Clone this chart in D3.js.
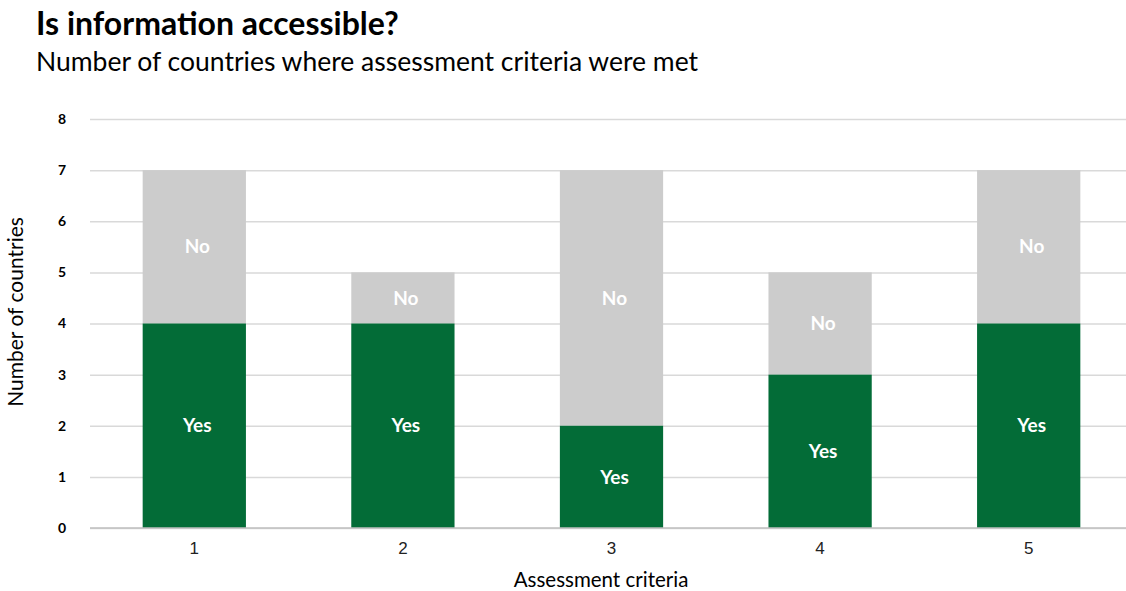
<!DOCTYPE html>
<meta charset="utf-8">
<style>
body { margin: 0; background: #fff; }
svg { font-family: Lato, "Open Sans", sans-serif; }
.grid line { stroke: #d9d9d9; stroke-width: 1.5; }
.grid .domain { display: none; }
.yaxis text { font-weight: bold; font-size: 14px; fill: #000; }
.xaxis text { font-size: 17px; fill: #222; }
</style>
<svg width="1126" height="591"></svg>
<script src="https://d3js.org/d3.v7.min.js"></script>
<script>
// chart data
var criteria = ["1", "2", "3", "4", "5"];
var yesCounts = [4, 4, 2, 3, 4];
var noCounts = [3, 1, 5, 2, 3];
var yTicks = [0, 1, 2, 3, 4, 5, 6, 7, 8];

var svg = d3.select("svg"),
    width = +svg.attr("width"),
    height = +svg.attr("height");

var margin = {left: 90, right: -7, top: 119, bottom: 63};

var x = d3.scaleBand()
    .domain(criteria)
    .range([margin.left, width - margin.right])
    .paddingInner(0.505)
    .paddingOuter(0.2525);

var y = d3.scaleLinear()
    .domain([0, 8])
    .range([height - margin.bottom, margin.top]);

// gridlines
svg.append("g")
    .attr("class", "grid")
    .attr("transform", "translate(" + margin.left + ",0)")
    .call(d3.axisLeft(y).tickValues(yTicks).tickSize(-(width - margin.left)).tickFormat(""));

// y tick labels
svg.append("g")
    .attr("class", "yaxis")
    .selectAll("text")
    .data(yTicks)
    .enter().append("text")
    .attr("x", 62)
    .attr("y", function(d) { return y(d); })
    .attr("dy", "0.35em")
    .attr("text-anchor", "middle")
    .text(function(d) { return d; });

var rows = criteria.map(function(c, i) {
  return {c: c, yes: yesCounts[i], no: noCounts[i]};
});

var bars = svg.append("g").selectAll("g")
    .data(rows)
    .enter().append("g");

bars.append("rect")
    .attr("x", function(d) { return x(d.c); })
    .attr("width", x.bandwidth())
    .attr("y", function(d) { return y(d.yes + d.no); })
    .attr("height", function(d) { return y(d.yes) - y(d.yes + d.no); })
    .attr("fill", "#cccccc");

bars.append("rect")
    .attr("x", function(d) { return x(d.c); })
    .attr("width", x.bandwidth())
    .attr("y", function(d) { return y(d.yes); })
    .attr("height", function(d) { return y(0) - y(d.yes); })
    .attr("fill", "#036c37");

bars.append("text")
    .attr("x", function(d) { return x(d.c) + x.bandwidth() / 2 + 3; })
    .attr("y", function(d) { return y(d.yes + d.no / 2); })
    .attr("dy", "0.35em")
    .attr("text-anchor", "middle")
    .attr("fill", "#fff")
    .attr("font-weight", "bold")
    .attr("font-size", "19px")
    .text("No");

bars.append("text")
    .attr("x", function(d) { return x(d.c) + x.bandwidth() / 2 + 3; })
    .attr("y", function(d) { return y(d.yes / 2); })
    .attr("dy", "0.35em")
    .attr("text-anchor", "middle")
    .attr("fill", "#fff")
    .attr("font-weight", "bold")
    .attr("font-size", "19px")
    .text("Yes");

// x axis
var xAxis = svg.append("g")
    .attr("class", "xaxis")
    .attr("transform", "translate(0," + y(0) + ")")
    .call(d3.axisBottom(x).tickSize(0).tickPadding(14));
xAxis.select(".domain").remove();
svg.append("line")
    .attr("x1", margin.left).attr("x2", width)
    .attr("y1", y(0)).attr("y2", y(0))
    .attr("stroke", "#bfbfbf").attr("stroke-width", 1.5);

// titles
svg.append("text")
    .attr("x", 36).attr("y", 35)
    .attr("font-size", "32px").attr("font-weight", "bold")
    .attr("fill", "#000")
    .text("Is information accessible?");

svg.append("text")
    .attr("x", 36).attr("y", 71)
    .attr("font-size", "26.5px")
    .attr("fill", "#000")
    .text("Number of countries where assessment criteria were met");

svg.append("text")
    .attr("x", 601).attr("y", 587)
    .attr("text-anchor", "middle")
    .attr("font-size", "20.5px")
    .attr("fill", "#000")
    .text("Assessment criteria");

svg.append("text")
    .attr("transform", "translate(23,312) rotate(-90)")
    .attr("text-anchor", "middle")
    .attr("font-size", "21px")
    .attr("fill", "#000")
    .text("Number of countries");
</script>
